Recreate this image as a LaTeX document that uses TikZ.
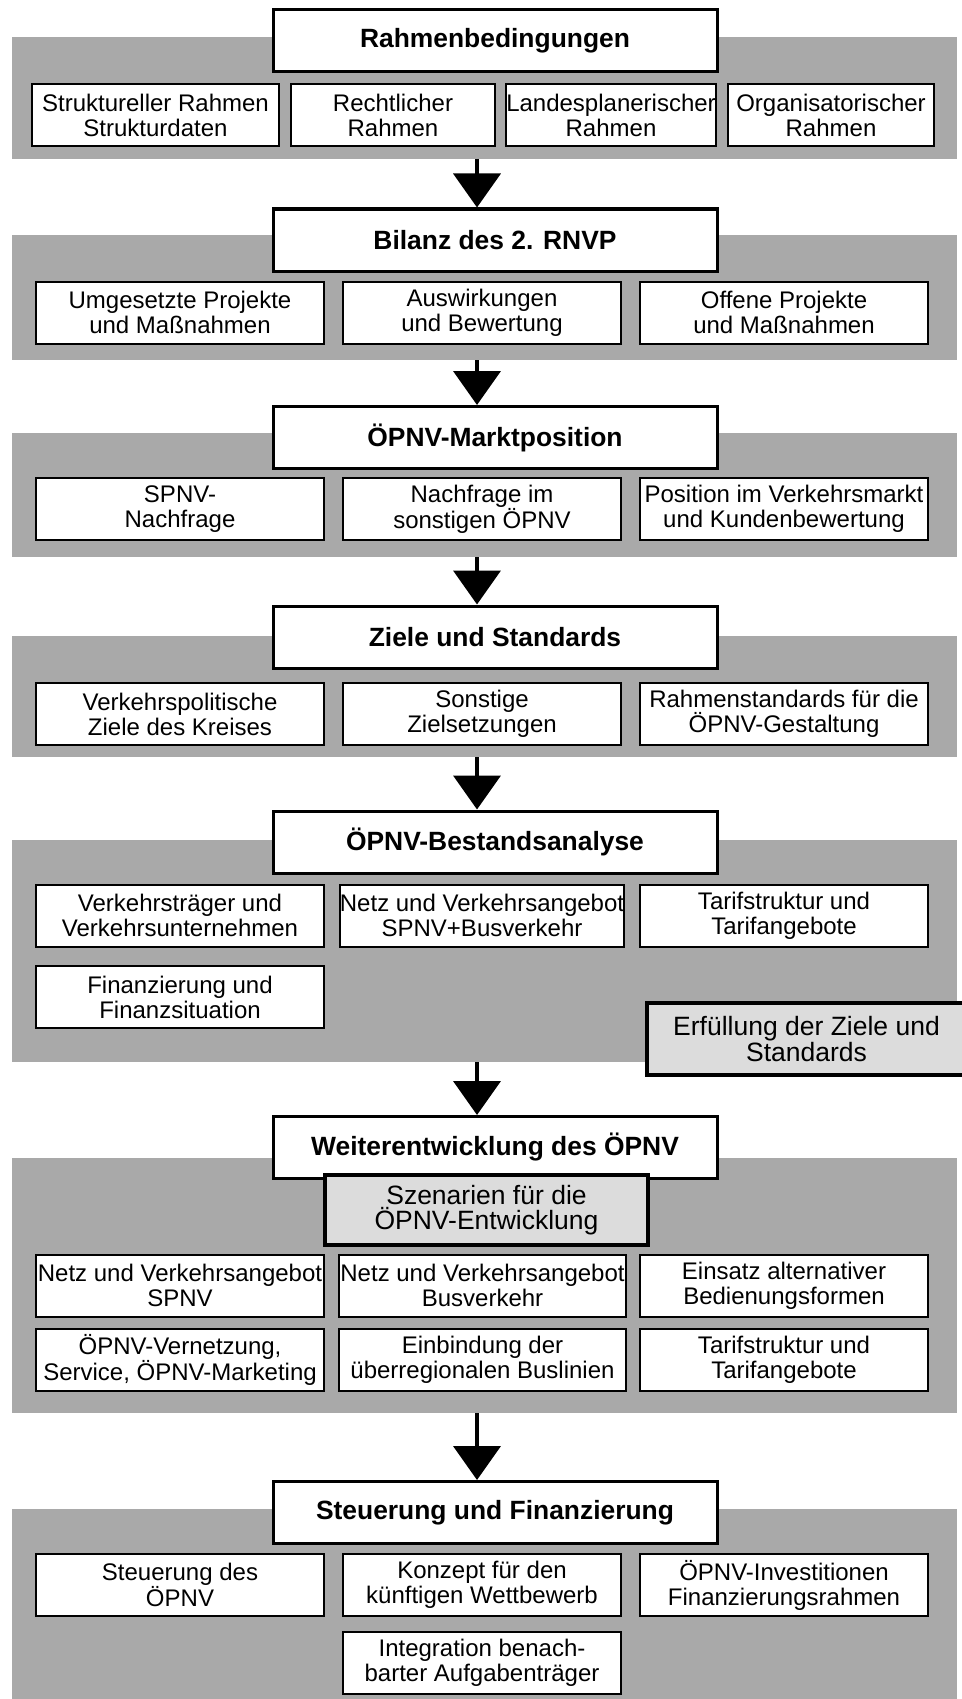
\documentclass[tikz,border=0pt]{standalone}
\usepackage{fontspec}
\setmainfont{Liberation Sans}
\usetikzlibrary{arrows.meta}
\definecolor{bandgray}{HTML}{A9A9A9}
\definecolor{notegray}{HTML}{DCDCDC}
\tikzset{
  band/.style={fill=bandgray, draw=none, minimum width=945pt, inner sep=0pt, outer sep=0pt},
  head/.style={draw=black, fill=white, line width=3pt, minimum width=444pt, minimum height=62pt, inner sep=0pt, font=\bfseries\fontsize{26.4}{28}\selectfont},
  item/.style={draw=black, fill=white, line width=2pt, minimum height=62pt, inner sep=0pt, align=center, font=\fontsize{24}{25}\selectfont},
  note/.style={draw=black, fill=notegray, line width=4.5pt, inner sep=0pt, align=center, font=\fontsize{26.5}{25.5}\selectfont},
  flow/.style={draw=black, line width=4pt, -{Triangle[length=34pt,width=47pt]}},
}

\begin{document}
\begin{tikzpicture}[x=1pt,y=-1pt]
  \useasboundingbox[fill=white] (0,0) rectangle (961,1699);
  \coordinate (ax) at (477,0);

  % Rahmenbedingungen
  \node[band, minimum height=122pt] (b1) at (484.5,98) {};
  \node[head] (t1) at (495,41) {Rahmenbedingungen};
  \node[item, minimum width=247pt] (r1a) at (155.5,115) {Struktureller Rahmen\\Strukturdaten};
  \node[item, minimum width=204pt] (r1b) at (393,115) {Rechtlicher\\Rahmen};
  \node[item, minimum width=204pt] (r1c) at (611,115) {Landesplanerischer\\Rahmen};
  \node[item, minimum width=206pt] (r1d) at (831,115) {Organisatorischer\\Rahmen};

  % Bilanz
  \node[band, minimum height=125pt] (b2) at (484.5,297.5) {};
  \node[head] (t2) at (495,240) {Bilanz des 2. RNVP};
  \node[item, minimum width=288pt] (r2a) at (180,312.5) {Umgesetzte Projekte\\und Maßnahmen};
  \node[item, minimum width=278pt] (r2b) at (482,312.5) {Auswirkungen\\und Bewertung};
  \node[item, minimum width=288pt] (r2c) at (784,312.5) {Offene Projekte\\und Maßnahmen};

  % Marktposition
  \node[band, minimum height=124pt] (b3) at (484.5,495) {};
  \node[head] (t3) at (495,437.5) {ÖPNV-Marktposition};
  \node[item, minimum width=288pt] (r3a) at (180,509) {SPNV-\\Nachfrage};
  \node[item, minimum width=278pt] (r3b) at (482,509) {Nachfrage im\\sonstigen ÖPNV};
  \node[item, minimum width=288pt] (r3c) at (784,509) {Position im Verkehrsmarkt\\und Kundenbewertung};

  % Ziele
  \node[band, minimum height=121pt] (b4) at (484.5,696.5) {};
  \node[head] (t4) at (495,637) {Ziele und Standards};
  \node[item, minimum width=288pt] (r4a) at (180,714) {Verkehrspolitische\\Ziele des Kreises};
  \node[item, minimum width=278pt] (r4b) at (482,714) {Sonstige\\Zielsetzungen};
  \node[item, minimum width=288pt] (r4c) at (784,714) {Rahmenstandards für die\\ÖPNV-Gestaltung};

  % Bestandsanalyse
  \node[band, minimum height=222pt] (b5) at (484.5,951) {};
  \node[head] (t5) at (495,842) {ÖPNV-Bestandsanalyse};
  \node[item, minimum width=288pt] (r5a) at (180,915.5) {Verkehrsträger und\\Verkehrsunternehmen};
  \node[item, minimum width=278pt] (r5b) at (482,915.5) {Netz und Verkehrsangebot\\SPNV+Busverkehr};
  \node[item, minimum width=288pt] (r5c) at (784,915.5) {Tarifstruktur und\\Tarifangebote};
  \node[item, minimum width=288pt] (r5d) at (180,997) {Finanzierung und\\Finanzsituation};
  \node[note, minimum width=319pt, minimum height=72pt] (erf) at (806.5,1039) {Erfüllung der Ziele und\\Standards};

  % Weiterentwicklung
  \node[band, minimum height=255pt] (b6) at (484.5,1285.5) {};
  \node[head] (t6) at (495,1147.5) {Weiterentwicklung des ÖPNV};
  \node[note, minimum width=323pt, minimum height=70pt] (szen) at (486.5,1210) {Szenarien für die\\ÖPNV-Entwicklung};
  \node[item, minimum width=288pt] (r6a) at (180,1285.5) {Netz und Verkehrsangebot\\SPNV};
  \node[item, minimum width=287pt] (r6b) at (482.5,1285.5) {Netz und Verkehrsangebot\\Busverkehr};
  \node[item, minimum width=288pt] (r6c) at (784,1285.5) {Einsatz alternativer\\Bedienungsformen};
  \node[item, minimum width=288pt] (r6d) at (180,1359.5) {ÖPNV-Vernetzung,\\Service, ÖPNV-Marketing};
  \node[item, minimum width=287pt] (r6e) at (482.5,1359.5) {Einbindung der\\überregionalen Buslinien};
  \node[item, minimum width=288pt] (r6f) at (784,1359.5) {Tarifstruktur und\\Tarifangebote};

  % Steuerung
  \node[band, minimum height=192pt] (b7) at (484.5,1605) {};
  \node[head] (t7) at (495,1512.5) {Steuerung und Finanzierung};
  \node[item, minimum width=288pt] (r7a) at (180,1585) {Steuerung des\\ÖPNV};
  \node[item, minimum width=278pt] (r7b) at (482,1585) {Konzept für den\\künftigen Wettbewerb};
  \node[item, minimum width=288pt] (r7c) at (784,1585) {ÖPNV-Investitionen\\Finanzierungsrahmen};
  \node[item, minimum width=278pt] (r7d) at (482,1662.5) {Integration benach-\\barter Aufgabenträger};

  % arrows
  \draw[flow] (b1.south -| ax) -- (t2.north -| ax);
  \draw[flow] (b2.south -| ax) -- (t3.north -| ax);
  \draw[flow] (b3.south -| ax) -- (t4.north -| ax);
  \draw[flow] (b4.south -| ax) -- (t5.north -| ax);
  \draw[flow] (b5.south -| ax) -- (t6.north -| ax);
  \draw[flow] (b6.south -| ax) -- (t7.north -| ax);
\end{tikzpicture}
\end{document}
